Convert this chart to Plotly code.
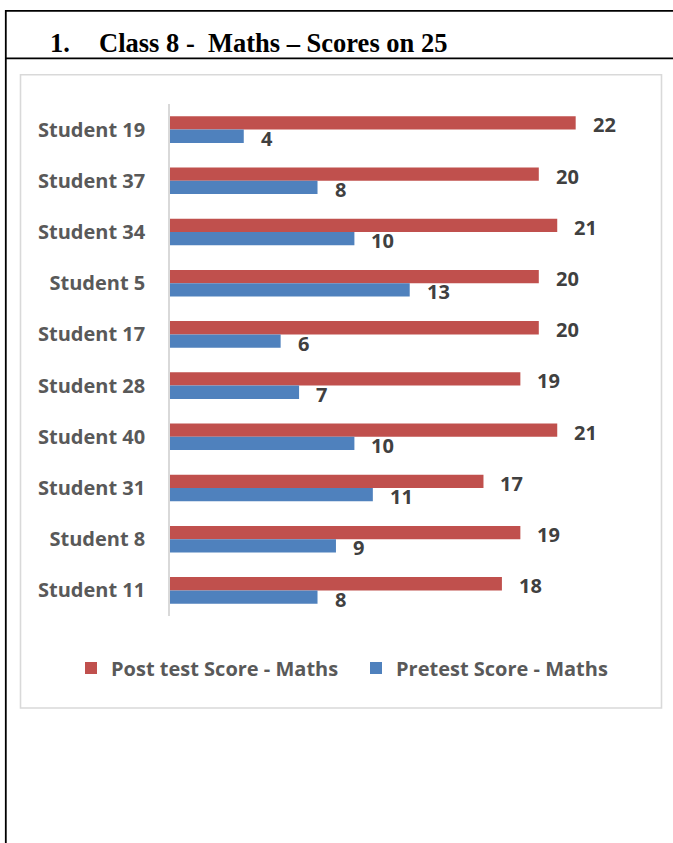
import plotly.graph_objects as go

students = ["Student 19", "Student 37", "Student 34", "Student 5", "Student 17",
            "Student 28", "Student 40", "Student 31", "Student 8", "Student 11"]
post_scores = [22, 20, 21, 20, 20, 19, 21, 17, 19, 18]
pre_scores = [4, 8, 10, 13, 6, 7, 10, 11, 9, 8]
series_names = ["Post test Score - Maths", "Pretest Score - Maths"]
title_num = "1."
title_text = "Class 8 -  Maths \u2013 Scores on 25"

W, H = 673, 843
L, R, T, B = 170, 42, 104, 227
PW, PH = W - L - R, H - T - B

def px(x):
    return (x - L) / PW

def py(y):
    return (H - B - y) / PH

RED = "#C0504D"
BLUE = "#4F81BD"
LABEL_FONT = dict(family="Open Sans", size=20, color="#404040", weight="bold")

fig = go.Figure()
fig.add_trace(go.Bar(y=students, x=post_scores, name=series_names[0], orientation="h",
                     marker=dict(color=RED, line=dict(width=0))))
fig.add_trace(go.Bar(y=students, x=pre_scores, name=series_names[1], orientation="h",
                     marker=dict(color=BLUE, line=dict(width=0))))

annotations = []
bar_px = PH / len(students) * (1 - 0.48) / 2
for s, v in zip(students, post_scores):
    annotations.append(dict(x=v, y=s, xref="x", yref="y", text=str(v), showarrow=False,
                            xanchor="left", yanchor="middle", xshift=15,
                            yshift=bar_px / 2 - 2, font=LABEL_FONT))
for s, v in zip(students, pre_scores):
    annotations.append(dict(x=v, y=s, xref="x", yref="y", text=str(v), showarrow=False,
                            xanchor="left", yanchor="middle", xshift=15,
                            yshift=-bar_px / 2 - 2, font=LABEL_FONT))

title_font = dict(family="Liberation Serif", size=26.5, color="black", weight="bold")
annotations.append(dict(x=px(48), y=py(43), xref="paper", yref="paper", text=title_num,
                        showarrow=False, xanchor="left", yanchor="middle", font=title_font))
annotations.append(dict(x=px(97), y=py(43), xref="paper", yref="paper", text=title_text,
                        showarrow=False, xanchor="left", yanchor="middle", font=title_font))

shapes = [
    # document frame lines
    dict(type="line", xref="paper", yref="paper", x0=px(5), x1=px(673), y0=py(10.8), y1=py(10.8),
         line=dict(color="black", width=1.8)),
    dict(type="line", xref="paper", yref="paper", x0=px(5.8), x1=px(5.8), y0=py(10), y1=py(843),
         line=dict(color="black", width=1.8)),
    dict(type="line", xref="paper", yref="paper", x0=px(5), x1=px(673), y0=py(58.3), y1=py(58.3),
         line=dict(color="black", width=1.8)),
    # chart box
    dict(type="rect", xref="paper", yref="paper", x0=px(20.5), x1=px(661.5), y0=py(74.8), y1=py(708),
         line=dict(color="#D9D9D9", width=1.6), layer="below"),
]

fig.update_layout(
    width=W, height=H,
    margin=dict(l=L, r=R, t=T, b=B, pad=0),
    paper_bgcolor="white", plot_bgcolor="white",
    barmode="group", bargap=0.48, bargroupgap=0,
    showlegend=True,
    legend=dict(orientation="h", x=px(71), y=py(668), xanchor="left", yanchor="middle",
                font=dict(family="Open Sans", size=20, color="#595959", weight="bold"),
                itemclick=False, traceorder="normal", entrywidth=240, entrywidthmode="pixels",
                bgcolor="rgba(0,0,0,0)"),
    xaxis=dict(range=[0, 25], showticklabels=False, showgrid=False, zeroline=False,
               showline=False, fixedrange=True),
    yaxis=dict(autorange="reversed", showgrid=False, zeroline=False, showline=True,
               linecolor="#D9D9D9", linewidth=1.5, ticks="", ticklabelstandoff=19,
               tickfont=dict(family="Open Sans", size=20, color="#595959", weight="bold")),
    annotations=annotations,
    shapes=shapes,
)

fig.write_html("out.html", config={"displayModeBar": False})
